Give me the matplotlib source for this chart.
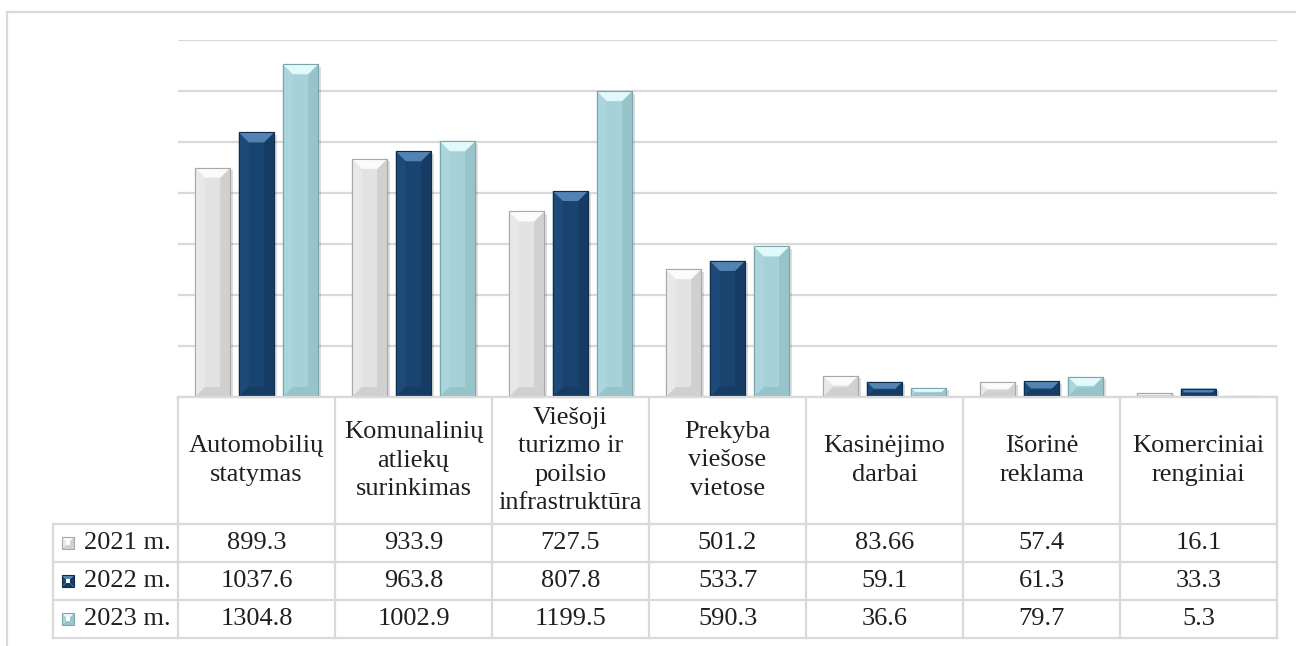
import matplotlib
matplotlib.use("Agg")
import matplotlib.pyplot as plt
from matplotlib.patches import Polygon, Rectangle
from matplotlib.transforms import IdentityTransform
from matplotlib.lines import Line2D

categories = ["Automobilių\nstatymas", "Komunalinių\natliekų\nsurinkimas",
              "Viešoji\nturizmo ir\npoilsio\ninfrastruktūra", "Prekyba\nviešose\nvietose",
              "Kasinėjimo\ndarbai", "Išorinė\nreklama", "Komerciniai\nrenginiai"]
series_names = ["2021 m.", "2022 m.", "2023 m."]
v2021 = [899.3, 933.9, 727.5, 501.2, 83.66, 57.4, 16.1]
v2022 = [1037.6, 963.8, 807.8, 533.7, 59.1, 61.3, 33.3]
v2023 = [1304.8, 1002.9, 1199.5, 590.3, 36.6, 79.7, 5.3]
series = [v2021, v2022, v2023]

# face, top bevel, left, right/bottom shade, edge
palette = [
    ("#E2E2E2", "#FBFBFB", "#E8E8E8", "#D0D0D0", "#A8A8A8"),
    ("#1A4470", "#5283B3", "#1D4A78", "#163C64", "#0F2E4D"),
    ("#A6D1D8", "#E2F9FB", "#ABD5DC", "#97C3CA", "#7DA6AC"),
]

W, H = 1296, 646
plt.rcParams['font.family'] = ['Liberation Serif', 'DejaVu Serif']
fig = plt.figure(figsize=(W / 100, H / 100), dpi=100)
fig.patch.set_facecolor("white")

plot_l, plot_r, plot_t, plot_b = 178, 1277, 40, 397
ax = fig.add_axes([plot_l / W, 1 - plot_b / H, (plot_r - plot_l) / W, (plot_b - plot_t) / H])
ax.set_xlim(-0.5, len(categories) - 0.5)
ax.set_ylim(0, 1400)
ax.set_yticks(range(0, 1401, 200))
ax.set_xticks([])
ax.tick_params(left=False, labelleft=False)
for s in ax.spines.values():
    s.set_visible(False)
ax.grid(axis="y", color="#D9D9D9", lw=1.6)
ax.set_axisbelow(True)

bw = 0.225
step = 0.28
bar_groups = []
for k, vals in enumerate(series):
    xs = [i + (k - 1) * step for i in range(len(categories))]
    bars = ax.bar(xs, vals, width=bw, color=palette[k][0], edgecolor=palette[k][4], lw=0.8, zorder=3)
    bar_groups.append(bars)

fig.canvas.draw()
ident = IdentityTransform()
gline = "#D9D9D9"
txt_col = "#1F1F1F"


def bevel(x0, y0, x1, y1, cols, depth=10):
    # x0,y0 bottom-left, x1,y1 top-right in display pixels
    d = min(depth, (x1 - x0) / 2.2, (y1 - y0) / 2.2)
    face, top, left, shade, edge = cols
    polys = [
        ([(x0, y0), (x0, y1), (x0 + d, y1 - d), (x0 + d, y0 + d)], left),
        ([(x1, y0), (x1, y1), (x1 - d, y1 - d), (x1 - d, y0 + d)], shade),
        ([(x0, y0), (x1, y0), (x1 - d, y0 + d), (x0 + d, y0 + d)], shade),
        ([(x0, y1), (x1, y1), (x1 - d, y1 - d), (x0 + d, y1 - d)], top),
    ]
    for pts, c in polys:
        ax.add_patch(Polygon(pts, closed=True, transform=ident, facecolor=c, edgecolor="none",
                             zorder=4, clip_on=False))
    ax.add_patch(Rectangle((x0, y0), x1 - x0, y1 - y0, transform=ident, facecolor="none",
                           edgecolor=edge, lw=0.8, zorder=5, clip_on=False))


for k, bars in enumerate(bar_groups):
    for b in bars:
        ext = b.get_window_extent()
        # drop shadow
        ax.add_patch(Rectangle((ext.x0 + 2.5, ext.y0), ext.width, ext.height - 2.5, transform=ident,
                               facecolor="#000000", alpha=0.13, edgecolor="none", zorder=2.5))
        bevel(ext.x0, ext.y0, ext.x1, ext.y1, palette[k])


def fy(y):
    return H - y


def hline(x0, x1, y):
    fig.add_artist(Line2D([x0, x1], [fy(y), fy(y)], transform=ident, color=gline, lw=1.6, zorder=6))


def vline(x, y0, y1):
    fig.add_artist(Line2D([x, x], [fy(y0), fy(y1)], transform=ident, color=gline, lw=1.6, zorder=6))


# outer frame
hline(7, W, 12)
vline(7, 12, H)

# table layout
col_edges = [ax.transData.transform((i - 0.5, 0))[0] for i in range(len(categories) + 1)]
head_top, head_bot = 397, 524
row_h = 38
rows_y = [head_bot + r * row_h for r in range(len(series) + 1)]
leg_l = 53

hline(col_edges[0], col_edges[-1], head_top)
hline(col_edges[0], col_edges[-1], head_bot)
for y in rows_y[1:]:
    hline(leg_l, col_edges[-1], y)
hline(leg_l, col_edges[0], head_bot)
for x in col_edges:
    vline(x, head_top, rows_y[-1])
vline(leg_l, head_bot, rows_y[-1])

fs = 19
for i, lab in enumerate(categories):
    cx = (col_edges[i] + col_edges[i + 1]) / 2
    fig.text(cx / W, fy((head_top + head_bot) / 2) / H, lab, ha="center", va="center",
             fontsize=fs, color=txt_col, linespacing=1.36)

for r, vals in enumerate(series):
    cy = (rows_y[r] + rows_y[r + 1]) / 2
    for i, v in enumerate(vals):
        cx = (col_edges[i] + col_edges[i + 1]) / 2
        fig.text(cx / W, fy(cy) / H, f"{v:g}", ha="center", va="center", fontsize=fs, color=txt_col)
    # legend key
    kx0, ks = 62, 12
    bevel(kx0, fy(cy) - ks / 2, kx0 + ks, fy(cy) + ks / 2, palette[r], depth=4)
    fig.text(171 / W, fy(cy) / H, series_names[r], ha="right", va="center", fontsize=fs, color=txt_col)

fig.savefig("out.png", dpi=100, facecolor="white")
